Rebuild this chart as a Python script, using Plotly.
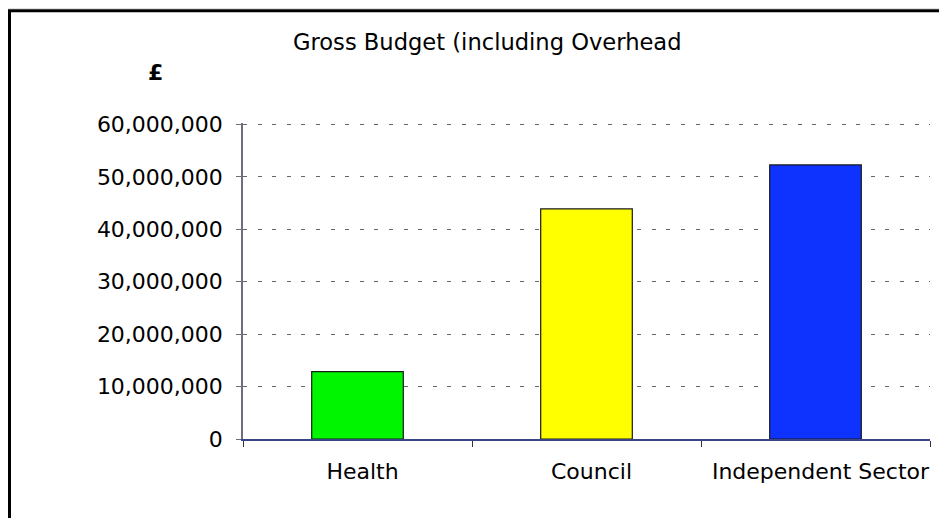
import plotly.graph_objects as go

categories = ["Health", "Council", "Independent Sector"]
budget = [12850000, 43900000, 52300000]
bar_colors = ["#00f500", "#ffff00", "#0f33ff"]
y_ticks = [0, 10000000, 20000000, 30000000, 40000000, 50000000, 60000000]
y_max = 60300000  # a little headroom so the 60,000,000 gridline is drawn
title_text = "Gross Budget (including Overhead"
y_unit = "£"

# page body adds an 8px offset; targets below are given in screen pixels
OFF = 8
W, H = 947, 518
X_LEFT, X_RIGHT = 243, 930     # screen x of plot area edges
Y_ZERO, Y_TOP_TICK = 439, 125  # screen y of 0 and of the top tick
PH = (Y_ZERO - Y_TOP_TICK) * y_max / y_ticks[-1]
L = X_LEFT - OFF
R = W - (X_RIGHT - OFF)
B = H - (Y_ZERO - OFF)
T = H - B - PH
PW = W - L - R


def px(sx):
    return (sx - X_LEFT) / PW


def py(sy):
    return (Y_ZERO - sy) / PH


FONT = "DejaVu Sans"

fig = go.Figure()
fig.add_trace(go.Bar(
    x=categories,
    y=budget,
    width=0.4,
    marker=dict(color=bar_colors, line=dict(color="#1a1a1a", width=1.2)),
    showlegend=False,
))

fig.update_layout(
    width=W,
    height=H,
    margin=dict(l=L, r=R, t=T, b=B, pad=0, autoexpand=False),
    paper_bgcolor="white",
    plot_bgcolor="white",
    font=dict(family=FONT, size=22, color="black"),
    xaxis=dict(
        type="category",
        range=[-0.5, 2.5],
        tickson="boundaries",
        ticks="outside",
        ticklen=6,
        tickcolor="#333344",
        tickwidth=1.2,
        showline=True,
        linecolor="#3a4585",
        linewidth=1.5,
        showgrid=False,
        tickangle=0,
        automargin=False,
        tickfont=dict(family=FONT, size=22, color="black"),
        ticklabelshift=5,
        ticklabelstandoff=12,
    ),
    yaxis=dict(
        range=[0, y_max],
        tickvals=y_ticks,
        tickformat=",d",
        ticks="outside",
        ticklen=5,
        tickcolor="#6e6e7e",
        tickwidth=1.2,
        showline=True,
        linecolor="#6e6e7e",
        linewidth=1.5,
        showgrid=True,
        gridcolor="#666666",
        gridwidth=1.4,
        griddash="4px,10.6px",
        zeroline=False,
        automargin=False,
        tickfont=dict(family=FONT, size=22, color="black"),
        ticklabelstandoff=9,
    ),
    shapes=[
        dict(type="line", xref="paper", yref="paper",
             x0=px(8), x1=px(960), y0=py(8.5), y1=py(8.5),
             line=dict(color="#b4b4b4", width=1)),
        dict(type="rect", xref="paper", yref="paper",
             x0=px(9.5), x1=px(990), y0=py(600), y1=py(11.3),
             line=dict(color="black", width=3), fillcolor="rgba(0,0,0,0)",
             layer="above"),
    ],
    annotations=[
        dict(text=title_text, xref="paper", yref="paper",
             x=px(291), y=py(43), xanchor="left", yanchor="middle",
             showarrow=False, font=dict(family=FONT, size=22.6, color="black")),
        dict(text="<b>" + y_unit + "</b>", xref="paper", yref="paper",
             x=px(155), y=py(73), xanchor="center", yanchor="middle",
             showarrow=False, font=dict(family=FONT, size=22, color="black")),
    ],
)

fig.write_html("out.html")
